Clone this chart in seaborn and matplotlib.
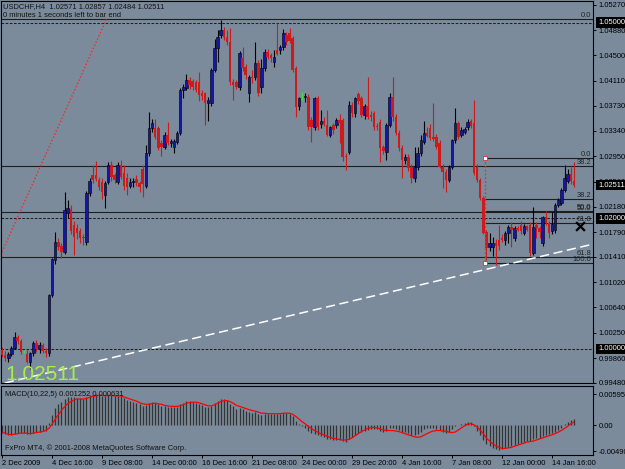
import matplotlib
matplotlib.use("Agg")
import matplotlib.pyplot as plt
import matplotlib.transforms as mtransforms
import seaborn as sns
import numpy as np
import pandas as pd

# MT4 style colours
BG = "#7b8b9b"
BULL = "#1416a8"
BEAR = "#d01a1a"
DOJI = "#44e044"
LINE = "#1e1e1e"
HIST = "#333333"
GREEN_TXT = "#a2f044"
FS = 5.4

# USDCHF H4 bars, prices in pips above 1.0000
opens = [
    -2, -9, -14, -7, 2, 18, 12, -5, -8, -20,
    -6, 9, 0, 6, -3, -6, 82, 136, 164, 158,
    149, 209, 214, 190, 186, 180, 172, 164, 239, 266,
    266, 259, 256, 236, 256, 282, 266, 256, 282, 270,
    262, 250, 256, 260, 254, 275, 250, 300, 339, 339,
    339, 315, 310, 328, 315, 310, 317, 331, 397, 400,
    412, 410, 409, 409, 392, 392, 377, 377, 427, 461,
    481, 489, 478, 470, 409, 409, 402, 446, 432, 392,
    417, 417, 438, 401, 430, 455, 450, 440, 458, 458,
    463, 481, 484, 476, 430, 372, 386, 386, 386, 351,
    340, 384, 345, 350, 343, 328, 343, 343, 351, 351,
    296, 302, 374, 361, 390, 384, 358, 372, 358, 361,
    342, 348, 310, 302, 343, 386, 355, 331, 308, 290,
    294, 279, 262, 279, 300, 317, 331, 339, 325, 325,
    316, 279, 271, 259, 279, 320, 346, 328, 333, 340,
    350, 346, 279, 259, 231, 179, 156, 156, 162, 167,
    170, 167, 178, 187, 170, 185, 190, 178, 188, 190,
    147, 190, 185, 162, 202, 193, 180, 182, 221, 224,
    244, 258, 268, 257,
]
highs = [
    3, -3, -4, 5, 26, 22, 16, -1, -2, -4,
    12, 14, 10, 9, 2, 84, 140, 179, 170, 162,
    241, 228, 220, 196, 192, 186, 176, 242, 262, 282,
    288, 264, 262, 258, 286, 288, 270, 286, 290, 282,
    270, 262, 262, 266, 258, 282, 312, 363, 352, 352,
    342, 320, 332, 348, 322, 322, 334, 400, 406, 422,
    416, 414, 412, 424, 396, 394, 386, 430, 475, 488,
    504, 494, 488, 492, 414, 412, 456, 462, 436, 420,
    428, 470, 442, 445, 460, 460, 454, 458, 499, 466,
    490, 486, 492, 480, 434, 386, 394, 392, 390, 356,
    386, 388, 366, 356, 366, 342, 346, 354, 360, 354,
    300, 380, 378, 386, 394, 388, 376, 417, 364, 364,
    346, 352, 312, 346, 392, 417, 360, 336, 312, 298,
    298, 284, 310, 310, 328, 350, 340, 344, 377, 330,
    320, 284, 276, 282, 322, 369, 350, 340, 340, 352,
    352, 381, 284, 262, 234, 182, 178, 172, 168, 190,
    176, 180, 190, 194, 188, 188, 196, 192, 190, 194,
    218, 194, 188, 204, 212, 196, 210, 224, 232, 246,
    282, 276, 279, 286,
]
lows = [
    -12, -18, -20, -10, 0, 8, -8, -6, -22, -30,
    -10, -4, -6, -6, -12, -10, 80, 130, 152, 140,
    146, 200, 176, 144, 168, 162, 160, 160, 234, 255,
    258, 244, 230, 216, 252, 258, 254, 252, 260, 244,
    236, 246, 248, 250, 240, 233, 246, 296, 332, 322,
    305, 296, 306, 312, 310, 300, 314, 328, 385, 396,
    398, 396, 394, 380, 382, 343, 350, 372, 424, 440,
    476, 474, 466, 404, 381, 398, 396, 426, 414, 378,
    408, 412, 388, 392, 426, 444, 440, 432, 450, 452,
    458, 466, 468, 424, 355, 366, 381, 378, 336, 317,
    336, 336, 338, 342, 326, 324, 330, 338, 316, 288,
    274, 298, 356, 356, 376, 356, 352, 352, 350, 336,
    336, 286, 298, 290, 340, 350, 328, 304, 262, 284,
    272, 254, 256, 274, 296, 314, 324, 320, 318, 306,
    278, 247, 241, 256, 276, 316, 322, 324, 330, 336,
    338, 266, 256, 228, 176, 136, 150, 142, 129, 152,
    164, 160, 162, 156, 166, 180, 176, 174, 180, 142,
    144, 170, 170, 158, 190, 170, 176, 178, 218, 220,
    240, 254, 252, 248,
]
closes = [
    -9, -14, -7, 2, 18, 12, -5, -5, -20, -6,
    9, 0, 6, -3, -6, 82, 138, 164, 156, 149,
    213, 216, 180, 172, 178, 170, 170, 239, 257, 259,
    260, 248, 240, 254, 282, 263, 259, 282, 264, 250,
    248, 256, 258, 254, 248, 252, 300, 339, 346, 325,
    308, 309, 328, 315, 318, 318, 331, 397, 402, 412,
    404, 402, 397, 389, 388, 377, 382, 427, 461, 478,
    489, 478, 470, 409, 405, 402, 453, 430, 420, 417,
    415, 438, 392, 430, 455, 448, 446, 448, 452, 463,
    484, 470, 472, 427, 371, 384, 386, 388, 340, 340,
    384, 340, 350, 345, 328, 340, 335, 351, 346, 294,
    294, 374, 361, 384, 380, 358, 372, 356, 355, 340,
    340, 308, 303, 343, 386, 355, 331, 308, 290, 294,
    277, 262, 279, 300, 320, 331, 327, 323, 322, 310,
    279, 271, 259, 279, 320, 346, 325, 335, 337, 348,
    342, 270, 259, 231, 178, 155, 162, 162, 158, 158,
    167, 178, 187, 183, 185, 183, 180, 188, 183, 147,
    187, 185, 179, 202, 193, 178, 192, 221, 228, 244,
    262, 268, 257, 251,
]

# MACD(10,22,5), units of 1e-4
macd_main = [
    -15, -17, -19, -19, -16, -14, -14, -15, -16, -17,
    -15, -13, -12, -11, -10, 5, 20, 32, 40, 45,
    50, 53, 54, 53, 52, 51, 50, 54, 57, 58,
    59, 58, 56, 56, 58, 57, 55, 56, 55, 52,
    49, 47, 45, 42, 40, 37, 38, 42, 44, 43,
    40, 37, 36, 35, 35, 34, 35, 40, 43, 46,
    46, 45, 43, 41, 38, 35, 34, 37, 42, 47,
    50, 50, 48, 41, 36, 31, 32, 31, 28, 26,
    24, 25, 21, 20, 22, 22, 21, 21, 21, 22,
    24, 23, 22, 17, 8, 2, -2, -5, -10, -15,
    -16, -19, -21, -23, -26, -27, -28, -28, -28, -30,
    -31, -26, -23, -18, -14, -13, -10, -9, -8, -8,
    -8, -11, -13, -11, -6, -5, -7, -9, -12, -13,
    -15, -18, -18, -16, -12, -8, -6, -6, -6, -7,
    -9, -12, -14, -12, -8, -2, 0, 2, 4, 6,
    6, -2, -10, -18, -28, -36, -40, -43, -46, -47,
    -46, -44, -41, -39, -37, -35, -33, -31, -29, -30,
    -27, -25, -24, -20, -18, -17, -15, -12, -9, -6,
    2, 7, 11, 12.5,
]
macd_signal = [
    -13, -15, -17, -18, -17, -16, -15, -15, -15, -16,
    -15, -14, -13, -12, -10, -6, 2, 11, 20, 28,
    35, 41, 45, 48, 50, 50, 50, 51, 53, 55,
    56, 57, 57, 56, 57, 57, 56, 56, 56, 54,
    52, 50, 48, 46, 43, 41, 40, 40, 41, 42,
    41, 40, 38, 37, 36, 36, 36, 37, 39, 42,
    43, 44, 44, 43, 41, 39, 37, 37, 39, 42,
    45, 47, 47, 45, 42, 38, 36, 34, 32, 30,
    28, 27, 25, 23, 23, 22, 22, 22, 22, 22,
    23, 23, 23, 21, 17, 12, 7, 3, -2, -6,
    -10, -13, -16, -18, -21, -23, -25, -26, -27, -28,
    -28, -27, -24, -20, -16, -12, -9, -6, -5, -4,
    -5, -7, -9, -10, -10, -10, -11, -12, -14, -16,
    -18, -20, -22, -23, -22, -19, -16, -13, -11, -10,
    -10, -11, -11, -13, -14, -13, -9, -5, -1, 2,
    3, 1, -3, -9, -16, -24, -30, -35, -39, -42,
    -44, -44, -43, -42, -40, -38, -36, -34, -32, -31,
    -30, -28, -26, -24, -22, -20, -18, -16, -13, -10,
    -6, -2, 3, 6.3,
]

date_ticks = [0, 16, 32, 48, 64, 80, 96, 112, 128, 144, 160, 176]
date_labels = ["2 Dec 2009", "4 Dec 16:00", "9 Dec 08:00", "14 Dec 00:00",
               "16 Dec 16:00", "21 Dec 08:00", "24 Dec 00:00", "29 Dec 20:00",
               "4 Jan 16:00", "7 Jan 08:00", "12 Jan 00:00", "14 Jan 16:00"]
price_ticks = [1.05270, 1.04880, 1.04500, 1.04110, 1.03730, 1.03340, 1.02950,
               1.02560, 1.02180, 1.01790, 1.01410, 1.01020, 1.00640, 1.00250,
               0.99860, 0.99480]
marked_prices = [1.05000, 1.02511, 1.02000, 1.00000]
dashed_levels = [1.05000, 1.02000, 1.00000]
macd_ticks = [0.005955, 0.0, -0.00490]
macd_tick_labels = ["0.005955", "0.00", "-0.00490"]

# Fibonacci objects
fib_b_high, fib_b_low = 1.05050, 0.99150
fib_b_anchor_x = (33.4, -21.9)
fib_b_levels = [0.0, 38.2, 50.0, 61.8]
fib_a_high, fib_a_low = 1.02920, 1.01310
fib_a_x = 154.6
fib_a_levels = [0.0, 38.2, 50.0, 61.8, 100.0]
trend_p1 = (1.0, 0.99480)
trend_p2 = (185.0, 1.01560)
stop_mark = (184.8, 1.01880)

df = pd.DataFrame({"open": opens, "high": highs, "low": lows, "close": closes})
df = 1 + df / 10000.0
df["bar"] = np.arange(len(df))
df["main"] = np.array(macd_main) / 10000.0
df["signal"] = np.array(macd_signal) / 10000.0

sns.set_style("ticks", {"axes.facecolor": BG, "figure.facecolor": BG,
                        "axes.edgecolor": "black"})
plt.rcParams["font.family"] = ["Liberation Sans", "DejaVu Sans"]

W, H = 625, 469


def px_rect(x0, y0, x1, y1):
    return [x0 / W, 1 - y1 / H, (x1 - x0) / W, (y1 - y0) / H]


fig = plt.figure(figsize=(6.25, 4.69), dpi=100, facecolor=BG)
ax = fig.add_axes(px_rect(1, 1, 593, 383))
ax_m = fig.add_axes(px_rect(1, 386, 593, 455), sharex=ax)
for a in (ax, ax_m):
    a.set_facecolor(BG)
    for s in a.spines.values():
        s.set_color("black")
        s.set_linewidth(0.8)

# horizontal lines and fib levels
for lv in dashed_levels:
    ax.axhline(lv, color=LINE, lw=0.75, ls=(0, (2.5, 1.5)), zorder=1)
fib_b_rng = fib_b_high - fib_b_low
for lv in fib_b_levels:
    y = fib_b_high - lv / 100 * fib_b_rng
    ax.axhline(y, color=LINE, lw=0.8, zorder=1)
    ax.text(188.6, y, f"{lv:.1f}", ha="right", va="bottom", fontsize=FS, color="#222222")
fib_a_rng = fib_a_high - fib_a_low
for lv in fib_a_levels:
    y = fib_a_high - lv / 100 * fib_a_rng
    ax.hlines(y, fib_a_x, 190, color=LINE, lw=0.8, zorder=1)
    ax.text(188.6, y, f"{lv:.1f}", ha="right", va="bottom", fontsize=FS, color="#222222")
ax.plot(fib_b_anchor_x, (fib_b_high, fib_b_low), color="#ee2a2a", lw=1.0,
        ls=(0, (1, 1.5)), zorder=1)
ax.plot((fib_a_x, fib_a_x), (fib_a_high, fib_a_low), color="#e03030", lw=0.9,
        ls=(0, (1.5, 1.5)), zorder=4)
ax.scatter([fib_a_x, fib_a_x], [fib_a_high, fib_a_low], marker="s", s=5, facecolor="white",
           edgecolor="#e03030", linewidths=0.6, zorder=5)

# candles
up = df[df.close > df.open]
dn = df[df.close < df.open]
dj = df[df.close == df.open]
ax.vlines(up.bar, up.low, up.high, color="black", lw=0.8, zorder=2)
ax.vlines(dn.bar, dn.low, dn.high, color=BEAR, lw=0.8, zorder=2)
ax.vlines(dj.bar, dj.low, dj.high, color=DOJI, lw=0.9, zorder=2)
ax.bar(up.bar, up.close - up.open, bottom=up.open, width=0.8, color=BULL,
       edgecolor="black", linewidth=0.4, zorder=3)
ax.bar(dn.bar, dn.open - dn.close, bottom=dn.close, width=0.8, color=BEAR,
       linewidth=0, zorder=3)

# trend line and stop mark
ax.axline(trend_p1, trend_p2, color="white", lw=1.1, ls=(0, (6, 3)), zorder=4)
ax.scatter([stop_mark[0]], [stop_mark[1]], marker="x", s=40, c="black", linewidths=1.6,
           zorder=6, clip_on=False)

ax.set_ylim(0.99479, 1.05331)
ax.set_yticks(price_ticks)
ax.set_yticklabels([f"{v:.5f}" for v in price_ticks])
ax.tick_params(axis="y", left=False, labelleft=False, right=True, labelright=True,
               length=2.5, width=0.7, pad=1.5, labelsize=FS, colors="black")
ax.tick_params(axis="x", bottom=False, labelbottom=False)

blend = mtransforms.blended_transform_factory(ax.transAxes, ax.transData)
off = mtransforms.offset_copy(blend, fig=fig, x=5, y=0, units="dots")
for v in marked_prices:
    ax.text(1.0, v, f"{v:.5f}", transform=off, ha="left", va="center", fontsize=FS,
            color="white", clip_on=False, zorder=10,
            bbox=dict(boxstyle="square,pad=0.25", fc="black", ec="none"))

# MACD panel
ax_m.vlines(df.bar, 0, df.main, color=HIST, lw=0.9)
sns.lineplot(x=df.bar, y=df.signal, color="red", lw=0.9, ax=ax_m)
ax_m.set_ylim(-0.00566, 0.00748)
ax_m.set_yticks(macd_ticks)
ax_m.set_yticklabels(macd_tick_labels)
ax_m.set_ylabel("")
ax_m.set_xlabel("")
ax_m.tick_params(axis="y", left=False, labelleft=False, right=True, labelright=True,
                 length=2.5, width=0.7, pad=1.5, labelsize=FS, colors="black")
ax_m.set_xticks(date_ticks)
ax_m.set_xticklabels(date_labels, ha="left", fontsize=FS)
ax_m.tick_params(axis="x", direction="out", length=2.5, width=0.7, pad=1.0,
                 labelsize=FS, colors="black")
ax_m.text(0.006, 0.93, "MACD(10,22,5) 0.001252 0.000631", transform=ax_m.transAxes,
          ha="left", va="top", fontsize=FS, color="#111111")
ax_m.text(0.006, 0.04, "FxPro MT4, \u00a9 2001-2008 MetaQuotes Software Corp.",
          transform=ax_m.transAxes, ha="left", va="bottom", fontsize=FS, color="#111111")

ax.set_xlim(-0.32, 189.12)

# header and big price
fig.text(3 / W, 1 - 7 / H, "USDCHF,H4  1.02571 1.02857 1.02484 1.02511",
         ha="left", va="center", fontsize=FS, color="#111111")
fig.text(3 / W, 1 - 15.5 / H, "0 minutes 1 seconds left to bar end",
         ha="left", va="center", fontsize=FS, color="#111111")
fig.text(5 / W, 1 - 380 / H, "1.02511", ha="left", va="baseline",
         fontsize=15, color=GREEN_TXT)

fig.savefig("out.png", dpi=100, facecolor=BG)
